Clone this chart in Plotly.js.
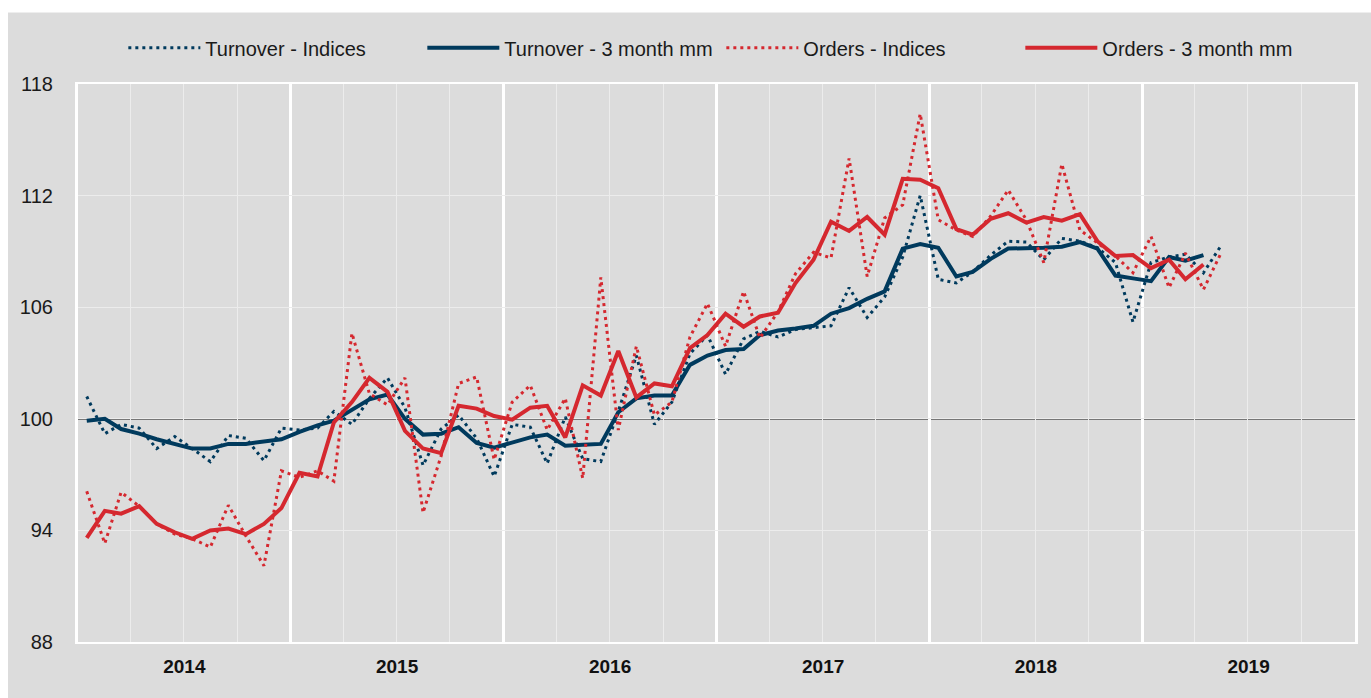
<!DOCTYPE html>
<html>
<head>
<meta charset="utf-8">
<script src="https://cdn.plot.ly/plotly-3.0.1.min.js"></script>
<style>html,body{margin:0;padding:0;background:#fff;}#chart{width:1371px;height:698px;}</style>
</head>
<body>
<div id="chart"></div>
<script>
// Monthly data, Jan 2014 onwards
const startYear = 2014;
const seriesNames = ["Turnover - Indices", "Turnover - 3 month mm", "Orders - Indices", "Orders - 3 month mm"];
const yearLabels = ["2014", "2015", "2016", "2017", "2018", "2019"];

const turnoverIndices = [
  101.2, 99.2, 99.7, 99.5, 98.4, 99.05, 98.4, 97.7, 99.1, 98.95, 97.75, 99.5,
  99.4, 99.5, 100.4, 99.7, 101.1, 102.2, 100.6, 97.5, 99.45, 100.2, 98.95, 96.9,
  99.7, 99.55, 97.6, 100.1, 97.85, 97.7, 100.4, 103.4, 99.7, 100.9, 103.5, 104.5,
  102.4, 104.3, 104.7, 104.4, 104.8, 104.9, 105.0, 107.05, 105.45, 106.55, 108.7, 112.0,
  107.5, 107.3, 107.9, 108.8, 109.55, 109.5, 108.55, 109.7, 109.55, 109.2, 108.4, 105.2,
  108.4, 108.7, 108.85, 107.85, 109.3
];
const turnover3mm = [
  99.9, 100.0, 99.45, 99.2, 98.9, 98.65, 98.4, 98.4, 98.65, 98.65, 98.8, 98.9,
  99.3, 99.65, 99.9, 100.5, 101.05, 101.3, 100.0, 99.15, 99.2, 99.55, 98.7, 98.45,
  98.75, 99.0, 99.15, 98.55, 98.6, 98.65, 100.35, 101.1, 101.25, 101.25, 102.9, 103.4,
  103.7, 103.75, 104.5, 104.75, 104.85, 105.0, 105.65, 105.95, 106.45, 106.85, 109.15, 109.4,
  109.2, 107.65, 107.9, 108.6, 109.15, 109.15, 109.2, 109.25, 109.5, 109.15, 107.7, 107.55,
  107.4, 108.7, 108.5, 108.8
];
const ordersIndices = [
  96.1, 93.3, 96.05, 95.3, 94.35, 93.8, 93.55, 93.1, 95.35, 93.7, 92.1, 97.2,
  96.85, 97.2, 96.65, 104.6, 101.35, 100.75, 102.2, 94.95, 98.0, 101.9, 102.25, 97.8,
  100.9, 101.8, 99.4, 101.1, 96.8, 107.6, 99.4, 103.9, 100.2, 100.9, 104.4, 106.2,
  103.9, 106.85, 104.35, 105.75, 107.8, 108.95, 108.65, 114.0, 107.65, 110.8, 111.5, 116.4,
  110.7, 110.15, 109.8, 110.9, 112.3, 110.7, 108.4, 113.7, 110.15, 109.45, 108.75, 107.85,
  109.8, 107.05, 108.9, 106.95, 108.9
];
const orders3mm = [
  93.6, 95.05, 94.9, 95.3, 94.35, 93.9, 93.55, 94.0, 94.1, 93.8, 94.35, 95.2,
  97.1, 96.9, 99.8, 100.9, 102.2, 101.45, 99.35, 98.4, 98.15, 100.7, 100.55, 100.15,
  99.95, 100.6, 100.7, 99.0, 101.8, 101.25, 103.65, 101.15, 101.9, 101.75, 103.8, 104.5,
  105.65, 104.95, 105.5, 105.7, 107.3, 108.55, 110.6, 110.1, 110.85, 109.9, 112.9, 112.85,
  112.4, 110.2, 109.9, 110.75, 111.05, 110.55, 110.85, 110.65, 111.0, 109.55, 108.75, 108.8,
  108.1, 108.55, 107.5, 108.3
];

function monthDates(n) {
  const out = [];
  for (let i = 0; i < n; i++) {
    const y = startYear + Math.floor(i / 12);
    const m = (i % 12) + 1;
    out.push(y + "-" + String(m).padStart(2, "0") + "-16");
  }
  return out;
}

const navy = "#003a5d";
const red = "#d5282f";
const narrow = "Liberation Sans Narrow, Arial Narrow, Liberation Sans, Arial, sans-serif";

const traces = [
  {x: monthDates(turnoverIndices.length), y: turnoverIndices, name: seriesNames[0], mode: "lines",
   line: {color: navy, width: 3, dash: "3px,4px"}},
  {x: monthDates(turnover3mm.length), y: turnover3mm, name: seriesNames[1], mode: "lines",
   line: {color: navy, width: 4}},
  {x: monthDates(ordersIndices.length), y: ordersIndices, name: seriesNames[2], mode: "lines",
   line: {color: red, width: 3, dash: "3px,4px"}},
  {x: monthDates(orders3mm.length), y: orders3mm, name: seriesNames[3], mode: "lines",
   line: {color: red, width: 4}}
];

const layout = {
  width: 1371, height: 698,
  margin: {l: 78, r: 16, t: 84, b: 56, pad: 0},
  paper_bgcolor: "#dcdcdc",
  plot_bgcolor: "#dcdcdc",
  font: {family: narrow, color: "#1a1a1a", size: 19},
  showlegend: true,
  legend: {orientation: "h", x: 0.0355, xanchor: "left", y: 1.065, yanchor: "middle",
           bgcolor: "rgba(0,0,0,0)", font: {family: narrow, size: 20, color: "#1a1a1a"},
           itemwidth: 72, entrywidth: 212, entrywidthmode: "pixels", traceorder: "normal"},
  xaxis: {
    type: "date",
    range: [startYear + "-01-01", (startYear + yearLabels.length) + "-01-01"],
    tick0: startYear + "-01-01", dtick: "M12",
    ticklabelmode: "period", tickformat: "%Y",
    tickfont: {family: narrow, size: 19, color: "#111", weight: "bold"},
    ticks: "", ticklabelstandoff: 6,
    showgrid: true, gridcolor: "#ffffff", gridwidth: 3,
    minor: {dtick: "M3", tick0: startYear + "-01-01", showgrid: true, gridcolor: "#ececec", gridwidth: 1},
    showline: true, linecolor: "#ffffff", linewidth: 2, mirror: true,
    zeroline: false, fixedrange: true
  },
  yaxis: {
    range: [88, 118], tick0: 88, dtick: 6,
    tickfont: {family: narrow, size: 20, color: "#1a1a1a"},
    ticks: "", ticklabelstandoff: 18,
    showgrid: true, gridcolor: "#ececec", gridwidth: 1,
    showline: true, linecolor: "#ffffff", linewidth: 3, mirror: true,
    zeroline: false, fixedrange: true
  },
  shapes: [
    {type: "line", xref: "paper", yref: "y", x0: 0, x1: 1, y0: 100, y1: 100,
     line: {color: "#111111", width: 1.2}, layer: "below"},
    {type: "rect", xref: "paper", yref: "paper", x0: -0.07, x1: 1.02, y0: 1.128, y1: 1.2,
     fillcolor: "#ffffff", line: {width: 0}, layer: "below"},
    {type: "rect", xref: "paper", yref: "paper", x0: -0.07, x1: -0.0548, y0: -0.2, y1: 1.2,
     fillcolor: "#ffffff", line: {width: 0}, layer: "below"}
  ]
};

Plotly.newPlot("chart", traces, layout, {displayModeBar: false, staticPlot: true});
</script>
</body>
</html>
